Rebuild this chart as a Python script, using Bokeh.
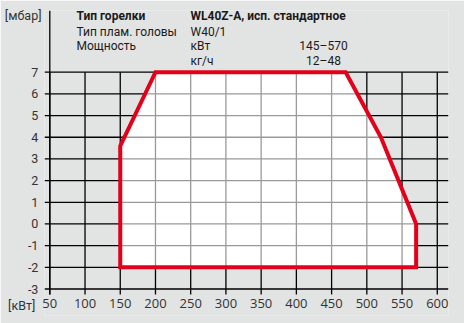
from bokeh.plotting import figure
from bokeh.models import Range1d, FixedTicker, Label
from bokeh.embed import file_html
from bokeh.resources import INLINE

# ---- data ----
x_ticks = [50, 100, 150, 200, 250, 300, 350, 400, 450, 500, 550, 600]
y_ticks = [-3, -2, -1, 0, 1, 2, 3, 4, 5, 6, 7]
field_kw = [150, 150, 200, 470, 520, 570, 570]
field_mbar = [-2, 3.6, 7, 7, 4, 0, -2]
unit_y = "[мбар]"
unit_x = "[кВт]"

title_rows = [
    ("Тип горелки", "WL40Z-A, исп. стандартное", "", True),
    ("Тип плам. головы", "W40/1", "", False),
    ("Мощность", "кВт", "145–570", False),
    ("", "кг/ч", "12–48", False),
]

BG = "#e2e4e3"
RED = "#e2001a"
PXX = 0.7045   # px per kW
PXY = 21.68    # px per mbar
L, R, T, B = 44, 16, 10, 8
W, H = 464, 323
X0 = 50 - (49.3 - L) / PXX
X1 = X0 + (W - L - R) / PXX
Y1 = 7 + (71.7 - T) / PXY
Y0 = Y1 - (H - T - B) / PXY
Y_AX_BOTTOM = -3.25          # end of axis line / vertical grid lines
UNIT_Y_POS, UNIT_X_POS = 9.6, -3.75   # label slots on the value axis
NB = "\u00a0"

p = figure(width=W, height=H, x_range=Range1d(X0, X1), y_range=Range1d(Y0, Y1),
           output_backend="svg", toolbar_location=None,
           min_border_left=L, min_border_right=R, min_border_top=T, min_border_bottom=B)
p.background_fill_color = BG
p.border_fill_color = BG
p.outline_line_color = None
p.grid.visible = False

# x axis (labels pulled up into place)
p.xaxis.ticker = FixedTicker(ticks=x_ticks)
p.xaxis.axis_line_color = None
p.xaxis.major_tick_line_color = None
p.xaxis.minor_tick_line_color = None
p.xaxis.major_label_standoff = -23
p.xaxis.major_label_text_font = "Open Sans"
p.xaxis.major_label_text_font_size = "13px"
p.xaxis.major_label_text_color = "#333333"

# y axis: numbers plus the two unit labels
overrides = {v: f"{v}{NB}" for v in y_ticks}
overrides[UNIT_Y_POS] = unit_y
overrides[UNIT_X_POS] = unit_x + NB + NB
p.yaxis.ticker = FixedTicker(ticks=y_ticks + [UNIT_Y_POS, UNIT_X_POS])
p.yaxis.major_label_overrides = overrides
p.yaxis.axis_line_color = None
p.yaxis.major_tick_line_color = None
p.yaxis.minor_tick_line_color = None
p.yaxis.major_label_standoff = -3
p.yaxis.major_label_text_font = "Roboto"
p.yaxis.major_label_text_font_size = "12.5px"
p.yaxis.major_label_text_color = "#333333"


def clip(c, vertical):
    pts = list(zip(field_kw, field_mbar))
    vals = []
    for i in range(len(pts)):
        (xa, ya), (xb, yb) = pts[i], pts[(i + 1) % len(pts)]
        if vertical:
            xa, ya, xb, yb = ya, xa, yb, xb
        lo, hi = min(ya, yb), max(ya, yb)
        if lo <= c <= hi:
            if ya == yb:
                vals += [xa, xb]
            else:
                vals.append(xa + (c - ya) * (xb - xa) / (yb - ya))
    return (min(vals), max(vals)) if vals else None


# black grid (outside field) + value axis line
p.segment(x0=x_ticks, x1=x_ticks, y0=[Y_AX_BOTTOM] * len(x_ticks), y1=[max(y_ticks)] * len(x_ticks),
          line_color="black", line_width=1.3)
p.segment(x0=[X0] * len(y_ticks), x1=[X1] * len(y_ticks), y0=y_ticks, y1=y_ticks,
          line_color="black", line_width=1.3)
p.segment(x0=[x_ticks[0]], x1=[x_ticks[0]], y0=[Y_AX_BOTTOM], y1=[Y1],
          line_color="black", line_width=1.3)

# white field
p.patch(field_kw, field_mbar, fill_color="white", line_color=None)

# gray grid inside field
gx0, gx1, gy0, gy1 = [], [], [], []
for yv in y_ticks:
    r = clip(yv, False)
    if r:
        gx0.append(r[0]); gx1.append(r[1]); gy0.append(yv); gy1.append(yv)
for xv in x_ticks:
    r = clip(xv, True)
    if r:
        gx0.append(xv); gx1.append(xv); gy0.append(r[0]); gy1.append(r[1])
p.segment(x0=gx0, x1=gx1, y0=gy0, y1=gy1, line_color="#9a9a9a", line_width=1.3)

# field outline
p.patch(field_kw, field_mbar, fill_color=None, line_color=RED, line_width=4, line_join="miter")


def px2x(px):
    return 50 + (px - 49.3) / PXX


def py2y(py):
    return 7 - (py - 71.7) / PXY


HF = "Roboto"
FS = "12px"
row_y = [15, 31, 45, 60]
for (a, b, c, bold), yy in zip(title_rows, row_y):
    st = "bold" if bold else "normal"
    if a:
        p.add_layout(Label(x=px2x(76), y=py2y(yy), text=a, text_font=HF, text_font_size=FS,
                           text_font_style=st, text_baseline="middle", text_color="#1a1a1a"))
    if b:
        p.add_layout(Label(x=px2x(190), y=py2y(yy), text=b, text_font=HF, text_font_size=FS,
                           text_font_style=st, text_baseline="middle", text_color="#1a1a1a"))
    if c:
        p.add_layout(Label(x=px2x(323), y=py2y(yy), text=c, text_font=HF, text_font_size=FS,
                           text_font_style=st, text_baseline="middle", text_align="center",
                           text_color="#1a1a1a"))

open("out.html", "w").write(file_html(p, INLINE))
